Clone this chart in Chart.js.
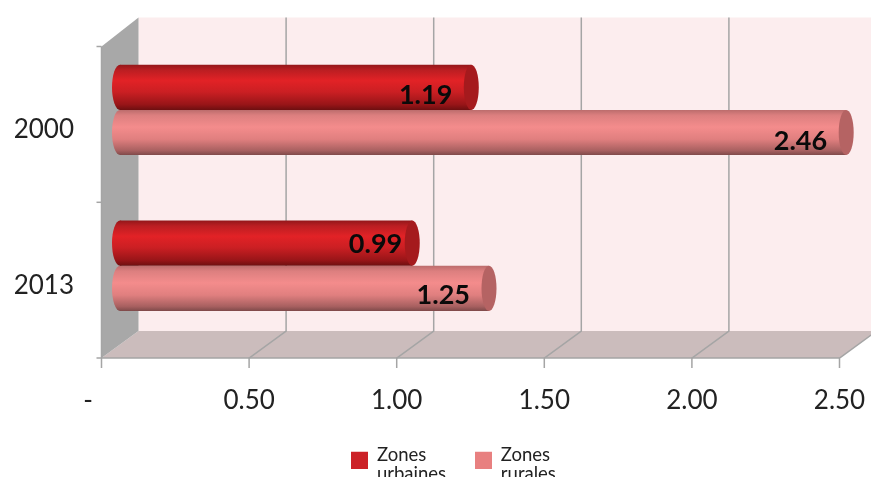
<!DOCTYPE html>
<html>
<head>
<meta charset="utf-8">
<title>Zones urbaines et rurales</title>
<script src="https://cdn.jsdelivr.net/npm/chart.js@4/dist/chart.umd.min.js"></script>
<style>
  html, body { margin: 0; padding: 0; background: #fff; overflow: hidden; width: 871px; height: 477px; }
  #caja { position: relative; width: 871px; height: 490px; }
</style>
</head>
<body>
<div id="caja"><canvas id="grafico"></canvas></div>
<script>
const annees = ['2000', '2013']
const urbaines = [1.19, 0.99]
const rurales = [2.46, 1.25]
const nomUrbaines = ['Zones', 'urbaines']
const nomRurales = ['Zones', 'rurales']
const ticksX = ['-    ', '0.50', '1.00', '1.50', '2.00', '2.50']

// small shifts of the value labels, same order as the bars
const decalageUrbaines = [[0, 8], [9, 1]]
const decalageRurales = [[0, 9], [0, 7]]

const PROFONDEUR = 18.5
const HAUT_PROF = 13.5
const CATEGORIE = 0.58

// vertical shading of a cylinder
const teintes = [
    { cap: '#a51a1d', stops: [[0, '#93171a'], [0.12, '#bb1e22'], [0.35, '#e22226'], [0.6, '#cb1f23'], [0.88, '#981518'], [1, '#6e0f10']] },
    { cap: '#b56363', stops: [[0, '#bb6c6c'], [0.12, '#dc7f7f'], [0.38, '#f48c8c'], [0.65, '#e07f7f'], [0.9, '#a86060'], [1, '#7f4a4a']] }
]

function degrade(chart, haut, bas, serie) {
    const g = chart.ctx.createLinearGradient(0, haut, 0, bas)
    teintes[serie].stops.forEach(s => g.addColorStop(s[0], s[1]))
    return g
}

function remplissage(ctx) {
    const chart = ctx.chart
    if (!chart.chartArea || ctx.dataIndex === undefined) return teintes[ctx.datasetIndex].cap
    const y = chart.scales.y
    const bande = y.height / annees.length * CATEGORIE / 2
    const centre = y.getPixelForValue(ctx.dataIndex)
    const haut = centre - bande + ctx.datasetIndex * bande
    return degrade(chart, haut, haut + bande, ctx.datasetIndex)
}

// legend square sits a little under the first text line
function carreLegende(couleur) {
    const c = document.createElement('canvas')
    c.width = 17
    c.height = 27
    const g = c.getContext('2d')
    g.fillStyle = couleur
    g.fillRect(0, 10, 17, 17)
    return c
}

// walls, floor and grid, built on the scales
const decor3d = {
    id: 'decor3d',
    afterLayout(chart) {
        const l = chart.legend
        l.left += 92
        l.top = 446.6
        l.bottom = 490
    },
    beforeDatasetsDraw(chart) {
        const c = chart.ctx
        const x = chart.scales.x
        const aire = chart.chartArea
        const gauche = x.getPixelForValue(0) - PROFONDEUR
        const haut = aire.top + HAUT_PROF + 1
        const bas = aire.bottom + HAUT_PROF + 1
        const fond = aire.top - HAUT_PROF - 1
        const sol = aire.bottom - HAUT_PROF + 1
        const dx = PROFONDEUR * 2

        c.save()
        c.fillStyle = '#fcedee'
        c.fillRect(gauche + dx, fond, chart.width, sol - fond)

        c.fillStyle = '#cbbcbc'
        c.beginPath()
        c.moveTo(gauche, bas)
        c.lineTo(gauche + dx, sol)
        c.lineTo(x.getPixelForValue(2.5) + PROFONDEUR, sol)
        c.lineTo(x.getPixelForValue(2.5) - PROFONDEUR, bas)
        c.closePath()
        c.fill()

        c.fillStyle = '#a8a8a8'
        c.beginPath()
        c.moveTo(gauche, haut)
        c.lineTo(gauche + dx, fond)
        c.lineTo(gauche + dx, sol)
        c.lineTo(gauche, bas)
        c.closePath()
        c.fill()

        c.strokeStyle = '#a5a5a5'
        c.lineWidth = 1.5
        x.ticks.forEach(t => {
            const px = x.getPixelForValue(t.value)
            c.beginPath()
            if (t.value > 0) {
                c.moveTo(px + PROFONDEUR, fond)
                c.lineTo(px + PROFONDEUR, sol)
                c.lineTo(px - PROFONDEUR, bas)
            } else {
                c.moveTo(px - PROFONDEUR, haut)
                c.lineTo(px - PROFONDEUR, bas)
            }
            c.lineTo(px - PROFONDEUR, bas + 10)
            c.stroke()
        })
        c.beginPath()
        c.moveTo(gauche - 5, bas)
        c.lineTo(x.getPixelForValue(2.5) - PROFONDEUR, bas)
        c.stroke()
        const milieu = (haut + bas) / 2
        ;[haut, milieu].forEach(py => {
            c.beginPath()
            c.moveTo(gauche - 5, py)
            c.lineTo(gauche, py)
            c.stroke()
        })

        // round left end of the bars
        chart.data.datasets.forEach((d, i) => {
            chart.getDatasetMeta(i).data.forEach(b => {
                c.fillStyle = degrade(chart, b.y - b.height / 2, b.y + b.height / 2, i)
                c.beginPath()
                c.ellipse(b.base, b.y, 8, b.height / 2, 0, 0, Math.PI * 2)
                c.fill()
            })
        })
        c.restore()
    },
    afterDatasetsDraw(chart) {
        const c = chart.ctx
        c.save()
        chart.data.datasets.forEach((d, i) => {
            chart.getDatasetMeta(i).data.forEach((b, j) => {
                c.fillStyle = teintes[i].cap
                c.beginPath()
                c.ellipse(b.x, b.y, 7.5, b.height / 2, 0, 0, Math.PI * 2)
                c.fill()

                const dec = d.decalages[j]
                c.fillStyle = '#0a0a0a'
                c.font = 'bold 27px Lato'
                c.textAlign = 'right'
                c.textBaseline = 'middle'
                c.fillText(d.data[j].toFixed(2), b.x - 19 + dec[0], b.y + dec[1])
            })
        })
        c.restore()
    }
}

const ctx = document.querySelector('#grafico').getContext('2d')
new Chart(ctx, {
    type: 'bar',
    plugins: [decor3d],
    data: {
        labels: annees,
        datasets: [
            { label: nomUrbaines.join(' '), data: urbaines, decalages: decalageUrbaines, backgroundColor: remplissage, borderWidth: 0 },
            { label: nomRurales.join(' '), data: rurales, decalages: decalageRurales, backgroundColor: remplissage, borderWidth: 0 }
        ]
    },
    options: {
        indexAxis: 'y',
        responsive: true,
        maintainAspectRatio: false,
        animation: false,
        layout: { padding: { left: 10, right: 13, top: 32, bottom: 0 } },
        datasets: { bar: { barPercentage: 1, categoryPercentage: CATEGORIE } },
        scales: {
            x: {
                min: 0,
                max: 2.5,
                grid: { display: false },
                border: { display: false },
                afterFit(s) {
                    s.height = 118.5
                    s.paddingLeft = 0
                    s.paddingRight = 0
                },
                ticks: {
                    stepSize: 0.5,
                    autoSkip: false,
                    maxRotation: 0,
                    padding: 33,
                    labelOffset: -PROFONDEUR,
                    color: '#222',
                    font: { family: 'Lato', size: 26 },
                    callback: (v, i) => ticksX[i]
                }
            },
            y: {
                grid: { display: false },
                border: { display: false },
                afterFit(s) {
                    s.width = 110
                    s.paddingTop = 0
                    s.paddingBottom = 0
                },
                ticks: {
                    padding: 38,
                    labelOffset: 20,
                    color: '#222',
                    font: { family: 'Lato', size: 26 }
                }
            }
        },
        plugins: {
            tooltip: { enabled: false },
            legend: {
                position: 'bottom',
                title: { display: true, text: '', padding: { top: 10, bottom: 0 }, font: { size: 12 } },
                labels: {
                    boxWidth: 17,
                    boxHeight: 17,
                    padding: -25,
                    usePointStyle: true,
                    color: '#222',
                    font: { family: 'Lato', size: 18.5, lineHeight: 1 },
                    generateLabels: () => [
                        { text: nomUrbaines, fontColor: '#222', pointStyle: carreLegende('#cc2127'), lineWidth: 0, datasetIndex: 0 },
                        { text: nomRurales, fontColor: '#222', pointStyle: carreLegende('#e88080'), lineWidth: 0, datasetIndex: 1 }
                    ]
                }
            }
        }
    }
})
</script>
</body>
</html>
